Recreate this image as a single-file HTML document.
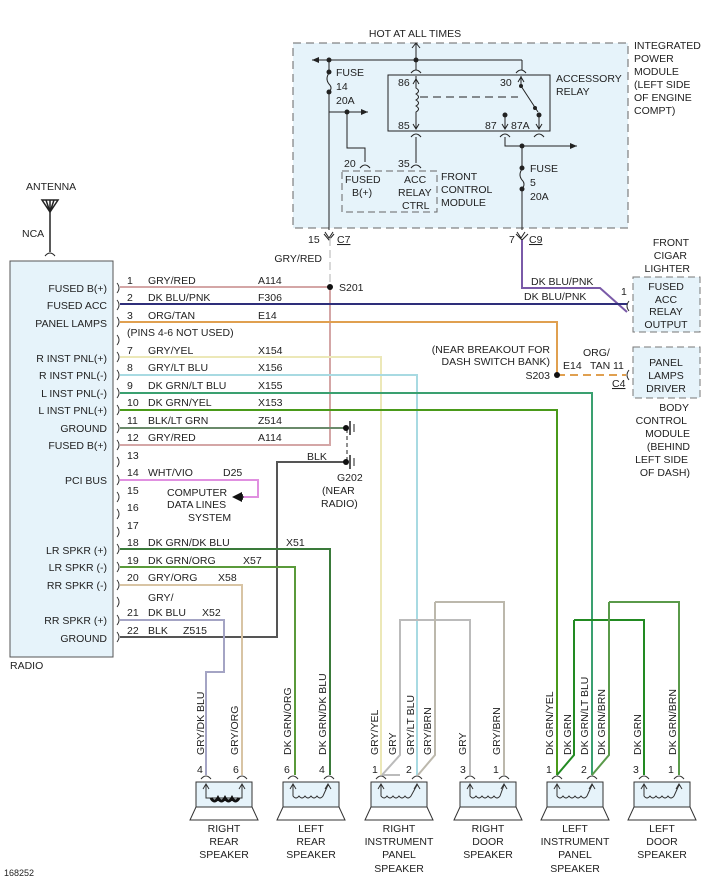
<!DOCTYPE html>
<html><head><meta charset="utf-8"><style>
html,body{margin:0;padding:0;background:#fff}
svg{display:block}
text{font-family:"Liberation Sans",Arial,sans-serif;font-size:10.5px;fill:#222}
</style></head><body>
<svg width="710" height="880" viewBox="0 0 710 880" xmlns="http://www.w3.org/2000/svg">
<defs>
<marker id="ar" markerWidth="8" markerHeight="8" refX="7" refY="4" orient="auto" markerUnits="userSpaceOnUse"><path d="M0,1 L7,4 L0,7 Z" fill="#222"/></marker>
</defs>

<!-- IPM box -->
<rect x="293" y="43" width="335" height="185" fill="#e6f3fa" stroke="#666" stroke-dasharray="8,5"/>
<text x="415" y="37" text-anchor="middle">HOT AT ALL TIMES</text>
<text x="634" y="49">INTEGRATED</text><text x="634" y="62">POWER</text><text x="634" y="75">MODULE</text><text x="634" y="88">(LEFT SIDE</text><text x="634" y="101">OF ENGINE</text><text x="634" y="114">COMPT)</text>
<g stroke="#222" fill="none" stroke-width="1">
<line x1="416" y1="59" x2="416" y2="44"/><path d="M412,48 L416,43 L420,48"/>
<line x1="522" y1="60" x2="312" y2="60" marker-end="url(#ar)"/>
<path d="M522,60 L522,70"/>
<path d="M329,60 L329,72"/><path d="M329,73 Q325,79 329,84 Q333,88 329,92"/>
<path d="M329,92 L329,230"/>
<path d="M329,112 L368,112" marker-end="url(#ar)"/>
<path d="M347,112 L347,148 L365,148 L365,162"/>
<rect x="388" y="75" width="162" height="56" fill="none"/>
<path d="M416,60 L416,70"/>
<path d="M411,73 Q416,67 421,73"/><path d="M516,73 Q521,67 526,73"/>
<path d="M416,76 L416,88 q5,3 0,6 q5,3 0,6 q5,3 0,6 q5,3 0,6 L416,128"/>
<path d="M413,84 L416,79 L419,84"/><path d="M413,124 L416,129 L419,124"/>
<path d="M420,97 L518,97" stroke-dasharray="8,5"/>
<path d="M521,76 L521,86 L538,112"/>
<path d="M518,82 L521,77 L524,82"/>
<path d="M505,115 L505,128"/><path d="M502,124 L505,129 L508,124"/>
<path d="M539,116 L539,128"/><path d="M536,124 L539,129 L542,124"/>
<path d="M411,137 Q416,131 421,137"/><path d="M416,137 L416,163"/>
<path d="M500,137 Q505,131 510,137"/><path d="M534,137 Q539,131 544,137"/>
<path d="M505,137 L505,146 L577,146" marker-end="url(#ar)"/>
<path d="M522,146 L522,168"/><path d="M522,169 Q518,175 522,180 Q526,184 522,189"/>
<path d="M522,189 L522,230"/>
<path d="M360,168 Q365,162 370,168"/><path d="M411,168 Q416,162 421,168"/>
<path d="M325,232 L329,238 L333,232"/><path d="M517,232 L521,238 L525,232"/>
<path d="M324,234 L329,240 L334,234"/><path d="M516,234 L522,240 L528,234"/>
</g>
<g fill="#222">
<circle cx="416" cy="60" r="2.5"/><circle cx="329" cy="60" r="2.5"/><circle cx="329" cy="72" r="2.5"/><circle cx="329" cy="92" r="2.5"/><circle cx="347" cy="112" r="2.5"/>
<circle cx="521" cy="86" r="2"/><circle cx="535" cy="108" r="2"/><circle cx="505" cy="115" r="2.5"/><circle cx="539" cy="115" r="2.5"/>
<circle cx="522" cy="146" r="2.5"/><circle cx="522" cy="168" r="2.5"/><circle cx="522" cy="189" r="2.5"/>
</g>
<text x="336" y="76">FUSE</text><text x="336" y="90">14</text><text x="336" y="104">20A</text>
<text x="398" y="86">86</text><text x="398" y="129">85</text><text x="500" y="86">30</text><text x="485" y="129">87</text><text x="511" y="129">87A</text>
<text x="556" y="82">ACCESSORY</text><text x="556" y="95">RELAY</text>
<text x="530" y="172">FUSE</text><text x="530" y="186">5</text><text x="530" y="200">20A</text>
<rect x="342" y="171" width="95" height="41" fill="none" stroke="#666" stroke-dasharray="7,4"/>
<text x="345" y="183">FUSED</text><text x="352" y="196">B(+)</text>
<text x="404" y="183">ACC</text><text x="398" y="196">RELAY</text><text x="402" y="209">CTRL</text>
<text x="344" y="167">20</text><text x="398" y="167">35</text>
<text x="441" y="180">FRONT</text><text x="441" y="193">CONTROL</text><text x="441" y="206">MODULE</text>
<text x="308" y="243">15</text><text x="337" y="243" text-decoration="underline">C7</text>
<text x="509" y="243">7</text><text x="529" y="243" text-decoration="underline">C9</text>
<text x="322" y="262" text-anchor="end">GRY/RED</text>

<!-- antenna -->
<text x="26" y="190">ANTENNA</text><text x="22" y="237">NCA</text>
<path d="M42,200 L58,200 L50,212 Z M46,200 L50,212 L54,200" fill="none" stroke="#222" stroke-width="1.5"/>
<line x1="50" y1="200" x2="50" y2="252" stroke="#222" stroke-width="1.5"/>
<path d="M45,256 Q50,250 55,256" fill="none" stroke="#222"/>

<!-- radio box -->
<rect x="10" y="261" width="103" height="396" fill="#e6f3fa" stroke="#555"/>
<text x="10" y="669">RADIO</text>
<g text-anchor="end">
<text x="107" y="292">FUSED B(+)</text><text x="107" y="309">FUSED ACC</text><text x="107" y="327">PANEL LAMPS</text>
<text x="107" y="362">R INST PNL(+)</text><text x="107" y="379">R INST PNL(-)</text><text x="107" y="397">L INST PNL(-)</text><text x="107" y="414">L INST PNL(+)</text>
<text x="107" y="432">GROUND</text><text x="107" y="449">FUSED B(+)</text><text x="107" y="484">PCI BUS</text>
<text x="107" y="554">LR SPKR (+)</text><text x="107" y="571">LR SPKR (-)</text><text x="107" y="589">RR SPKR (-)</text><text x="107" y="624">RR SPKR (+)</text><text x="107" y="642">GROUND</text>
</g>
<g fill="none" stroke="#333">
<path d="M117,283 q4,5 0,10 M117,300 q4,5 0,10 M117,317 q4,5 0,10 M117,335 q4,5 0,10 M117,352 q4,5 0,10 M117,370 q4,5 0,10 M117,388 q4,5 0,10 M117,405 q4,5 0,10 M117,423 q4,5 0,10 M117,440 q4,5 0,10 M117,457 q4,5 0,10 M117,475 q4,5 0,10 M117,492 q4,5 0,10 M117,509 q4,5 0,10 M117,527 q4,5 0,10 M117,544 q4,5 0,10 M117,562 q4,5 0,10 M117,580 q4,5 0,10 M117,597 q4,5 0,10 M117,615 q4,5 0,10 M117,632 q4,5 0,10"/>
</g>
<g>
<text x="127" y="284">1</text><text x="148" y="284">GRY/RED</text><text x="258" y="284">A114</text>
<text x="127" y="301">2</text><text x="148" y="301">DK BLU/PNK</text><text x="258" y="301">F306</text>
<text x="127" y="319">3</text><text x="148" y="319">ORG/TAN</text><text x="258" y="319">E14</text>
<text x="127" y="336">(PINS 4-6 NOT USED)</text>
<text x="127" y="354">7</text><text x="148" y="354">GRY/YEL</text><text x="258" y="354">X154</text>
<text x="127" y="371">8</text><text x="148" y="371">GRY/LT BLU</text><text x="258" y="371">X156</text>
<text x="127" y="389">9</text><text x="148" y="389">DK GRN/LT BLU</text><text x="258" y="389">X155</text>
<text x="127" y="406">10</text><text x="148" y="406">DK GRN/YEL</text><text x="258" y="406">X153</text>
<text x="127" y="424">11</text><text x="148" y="424">BLK/LT GRN</text><text x="258" y="424">Z514</text>
<text x="127" y="441">12</text><text x="148" y="441">GRY/RED</text><text x="258" y="441">A114</text>
<text x="127" y="459">13</text>
<text x="127" y="476">14</text><text x="148" y="476">WHT/VIO</text><text x="223" y="476">D25</text>
<text x="127" y="494">15</text><text x="127" y="511">16</text><text x="127" y="529">17</text>
<text x="167" y="496">COMPUTER</text><text x="167" y="508">DATA LINES</text><text x="188" y="521">SYSTEM</text>
<text x="127" y="546">18</text><text x="148" y="546">DK GRN/DK BLU</text><text x="286" y="546">X51</text>
<text x="127" y="564">19</text><text x="148" y="564">DK GRN/ORG</text><text x="243" y="564">X57</text>
<text x="127" y="581">20</text><text x="148" y="581">GRY/ORG</text><text x="218" y="581">X58</text>
<text x="148" y="601">GRY/</text>
<text x="127" y="616">21</text><text x="148" y="616">DK BLU</text><text x="202" y="616">X52</text>
<text x="127" y="634">22</text><text x="148" y="634">BLK</text><text x="183" y="634">Z515</text>
</g>

<!-- wires -->
<g fill="none" stroke-width="2">
<path d="M330,238 L330,287" stroke="#ccc" stroke-dasharray="8,4" stroke-width="1.5"/>
<path d="M120,287 L330,287 L330,445 L120,445" stroke="#d4a6a6"/>
<path d="M522,240 L522,288 L600,288 L627,312" stroke="#7a5aa8"/>
<path d="M120,304 L627,304" stroke="#2e2e7a"/>
<path d="M120,322 L557,322 L557,375" stroke="#e0a050"/>
<path d="M557,375 L626,375" stroke="#e0a050" stroke-dasharray="8,5"/>
<path d="M120,357 L381,357 L381,775" stroke="#ece8b8"/>
<path d="M120,375 L417,375 L417,775" stroke="#a8dae2"/>
<path d="M120,393 L592,393 L592,775" stroke="#3aa070"/>
<path d="M120,410 L557,410 L557,775" stroke="#4a9a1a"/>
<path d="M120,428 L345,428" stroke="#6a8a6a"/>
<path d="M120,480 L258,480 L258,497 L236,497" stroke="#e090e0"/>
<path d="M345,462 L277,462 L277,637 L120,637" stroke="#555"/>
<path d="M120,549 L330,549 L330,775" stroke="#3a7a3a"/>
<path d="M120,567 L295,567 L295,775" stroke="#5a9a3a"/>
<path d="M120,585 L242,585 L242,775" stroke="#d8c4a4"/>
<path d="M120,620 L224,620 L224,672 L206,672 L206,775" stroke="#a4a4c4"/>
<path d="M400,775 L382,775 M400,752 L400,620 L470,620 L470,775" stroke="#bbb"/>
<path d="M400,620 L400,755 L382,775" stroke="#bbb"/>
<path d="M435,602 L504,602 L504,775 M435,602 L435,755 L418,775" stroke="#bcb8ac"/>
<path d="M574,620 L644,620 L644,775 M574,620 L574,755 L557,775" stroke="#228a22"/>
<path d="M609,602 L679,602 L679,775 M609,602 L609,755 L592,775" stroke="#5a9a4a"/>
</g>
<path d="M244,497 L236,497" stroke="#222" marker-end="url(#ar)"/>
<path d="M232,497 L242,492 L242,502 Z" fill="#111"/>
<circle cx="330" cy="287" r="3" fill="#111"/><text x="339" y="291">S201</text>
<circle cx="557" cy="375" r="3" fill="#111"/><text x="550" y="379" text-anchor="end">S203</text>
<text x="550" y="353" text-anchor="end">(NEAR BREAKOUT FOR</text><text x="550" y="365" text-anchor="end">DASH SWITCH BANK)</text>
<text x="563" y="369">E14</text><text x="583" y="356">ORG/</text><text x="590" y="369">TAN</text><text x="613" y="369">11</text>
<text x="612" y="387" text-decoration="underline">C4</text>
<text x="531" y="285">DK BLU/PNK</text><text x="524" y="300">DK BLU/PNK</text><text x="621" y="295">1</text>

<!-- ground symbols -->
<g stroke="#222" fill="none">
<line x1="347" y1="429" x2="347" y2="462" stroke-dasharray="4,3"/>
<line x1="350" y1="421" x2="350" y2="435" stroke-width="1.5"/><line x1="354" y1="424" x2="354" y2="432"/>
<line x1="350" y1="455" x2="350" y2="469" stroke-width="1.5"/><line x1="354" y1="458" x2="354" y2="466"/>
</g>
<circle cx="346" cy="428" r="3" fill="#111"/><circle cx="346" cy="462" r="3" fill="#111"/>
<text x="307" y="460">BLK</text>
<text x="337" y="481">G202</text><text x="322" y="494">(NEAR</text><text x="321" y="507">RADIO)</text>

<!-- right boxes -->
<text x="689" y="246" text-anchor="end">FRONT</text><text x="687" y="259" text-anchor="end">CIGAR</text><text x="690" y="272" text-anchor="end">LIGHTER</text>
<rect x="633" y="277" width="67" height="55" fill="#e6f3fa" stroke="#777" stroke-dasharray="7,4"/>
<text x="666" y="290" text-anchor="middle">FUSED</text><text x="666" y="303" text-anchor="middle">ACC</text><text x="666" y="315" text-anchor="middle">RELAY</text><text x="666" y="328" text-anchor="middle">OUTPUT</text>
<path d="M629,301 q-4,5 0,10 M629,370 q-4,5 0,10" fill="none" stroke="#333"/>
<rect x="633" y="347" width="67" height="51" fill="#e6f3fa" stroke="#777" stroke-dasharray="7,4"/>
<text x="666" y="366" text-anchor="middle">PANEL</text><text x="666" y="379" text-anchor="middle">LAMPS</text><text x="666" y="392" text-anchor="middle">DRIVER</text>
<text x="689" y="411" text-anchor="end">BODY</text><text x="687" y="424" text-anchor="end">CONTROL</text><text x="690" y="437" text-anchor="end">MODULE</text><text x="690" y="450" text-anchor="end">(BEHIND</text><text x="688" y="463" text-anchor="end">LEFT SIDE</text><text x="690" y="476" text-anchor="end">OF DASH)</text>

<!-- speakers -->
<g id="spk" fill="none" stroke="#333">
</g>
<g stroke="#333" fill="#e6f3fa">
<rect x="196" y="782" width="56" height="25"/><path d="M196,807 L190,820 L258,820 L252,807" fill="none"/>
<rect x="283" y="782" width="56" height="25"/><path d="M283,807 L277,820 L345,820 L339,807" fill="none"/>
<rect x="371" y="782" width="56" height="25"/><path d="M371,807 L365,820 L433,820 L427,807" fill="none"/>
<rect x="460" y="782" width="56" height="25"/><path d="M460,807 L454,820 L522,820 L516,807" fill="none"/>
<rect x="547" y="782" width="56" height="25"/><path d="M547,807 L541,820 L609,820 L603,807" fill="none"/>
<rect x="634" y="782" width="56" height="25"/><path d="M634,807 L628,820 L696,820 L690,807" fill="none"/>
</g>
<g fill="none" stroke="#333">
<path d="M201,779 q5,-6 10,0 M237,779 q5,-6 10,0 M206,785 L206,798 L242,798 L242,785 M203,789 L206,784 L209,789 M239,789 L242,784 L245,789"/>
<path d="M288,779 q5,-6 10,0 M324,779 q5,-6 10,0 M293,785 L293,796 q3,4 6,0 q3,4 6,0 q3,4 6,0 q3,4 6,0 q3,4 6,0 L328,785 M290,789 L293,784 L296,789 M325,789 L328,784 L331,789"/>
<path d="M376,779 q5,-6 10,0 M412,779 q5,-6 10,0 M381,785 L381,796 q3,4 6,0 q3,4 6,0 q3,4 6,0 q3,4 6,0 q3,4 6,0 L417,785 M378,789 L381,784 L384,789 M414,789 L417,784 L420,789"/>
<path d="M465,779 q5,-6 10,0 M499,779 q5,-6 10,0 M470,785 L470,796 q3,4 6,0 q3,4 6,0 q3,4 6,0 q3,4 6,0 q3,4 6,0 L504,785 M467,789 L470,784 L473,789 M501,789 L504,784 L507,789"/>
<path d="M552,779 q5,-6 10,0 M587,779 q5,-6 10,0 M557,785 L557,796 q3,4 6,0 q3,4 6,0 q3,4 6,0 q3,4 6,0 q3,4 6,0 L592,785 M554,789 L557,784 L560,789 M589,789 L592,784 L595,789"/>
<path d="M639,779 q5,-6 10,0 M674,779 q5,-6 10,0 M644,785 L644,796 q3,4 6,0 q3,4 6,0 q3,4 6,0 q3,4 6,0 q3,4 6,0 L679,785 M641,789 L644,784 L647,789 M676,789 L679,784 L682,789"/>
</g>
<path d="M211,798 q3.5,6 7,0 q3.5,6 7,0 q3.5,6 7,0 q3.5,6 7,0" fill="none" stroke="#111" stroke-width="3"/>
<g>
<text x="197" y="773">4</text><text x="233" y="773">6</text>
<text x="284" y="773">6</text><text x="319" y="773">4</text>
<text x="372" y="773">1</text><text x="406" y="773">2</text>
<text x="460" y="773">3</text><text x="493" y="773">1</text>
<text x="546" y="773">1</text><text x="581" y="773">2</text>
<text x="633" y="773">3</text><text x="668" y="773">1</text>
</g>
<g>
<text transform="translate(204,755) rotate(-90)">GRY/DK BLU</text>
<text transform="translate(238,755) rotate(-90)">GRY/ORG</text>
<text transform="translate(291,755) rotate(-90)">DK GRN/ORG</text>
<text transform="translate(326,755) rotate(-90)">DK GRN/DK BLU</text>
<text transform="translate(378,755) rotate(-90)">GRY/YEL</text>
<text transform="translate(396,755) rotate(-90)">GRY</text>
<text transform="translate(414,755) rotate(-90)">GRY/LT BLU</text>
<text transform="translate(431,755) rotate(-90)">GRY/BRN</text>
<text transform="translate(466,755) rotate(-90)">GRY</text>
<text transform="translate(500,755) rotate(-90)">GRY/BRN</text>
<text transform="translate(553,755) rotate(-90)">DK GRN/YEL</text>
<text transform="translate(571,755) rotate(-90)">DK GRN</text>
<text transform="translate(588,755) rotate(-90)">DK GRN/LT BLU</text>
<text transform="translate(605,755) rotate(-90)">DK GRN/BRN</text>
<text transform="translate(641,755) rotate(-90)">DK GRN</text>
<text transform="translate(676,755) rotate(-90)">DK GRN/BRN</text>
</g>
<g text-anchor="middle">
<text x="224" y="832">RIGHT</text><text x="224" y="845">REAR</text><text x="224" y="858">SPEAKER</text>
<text x="311" y="832">LEFT</text><text x="311" y="845">REAR</text><text x="311" y="858">SPEAKER</text>
<text x="399" y="832">RIGHT</text><text x="399" y="845">INSTRUMENT</text><text x="399" y="858">PANEL</text><text x="399" y="872">SPEAKER</text>
<text x="488" y="832">RIGHT</text><text x="488" y="845">DOOR</text><text x="488" y="858">SPEAKER</text>
<text x="575" y="832">LEFT</text><text x="575" y="845">INSTRUMENT</text><text x="575" y="858">PANEL</text><text x="575" y="872">SPEAKER</text>
<text x="662" y="832">LEFT</text><text x="662" y="845">DOOR</text><text x="662" y="858">SPEAKER</text>
</g>
<text x="4" y="876" style="font-size:9px">168252</text>
</svg>
</body></html>
